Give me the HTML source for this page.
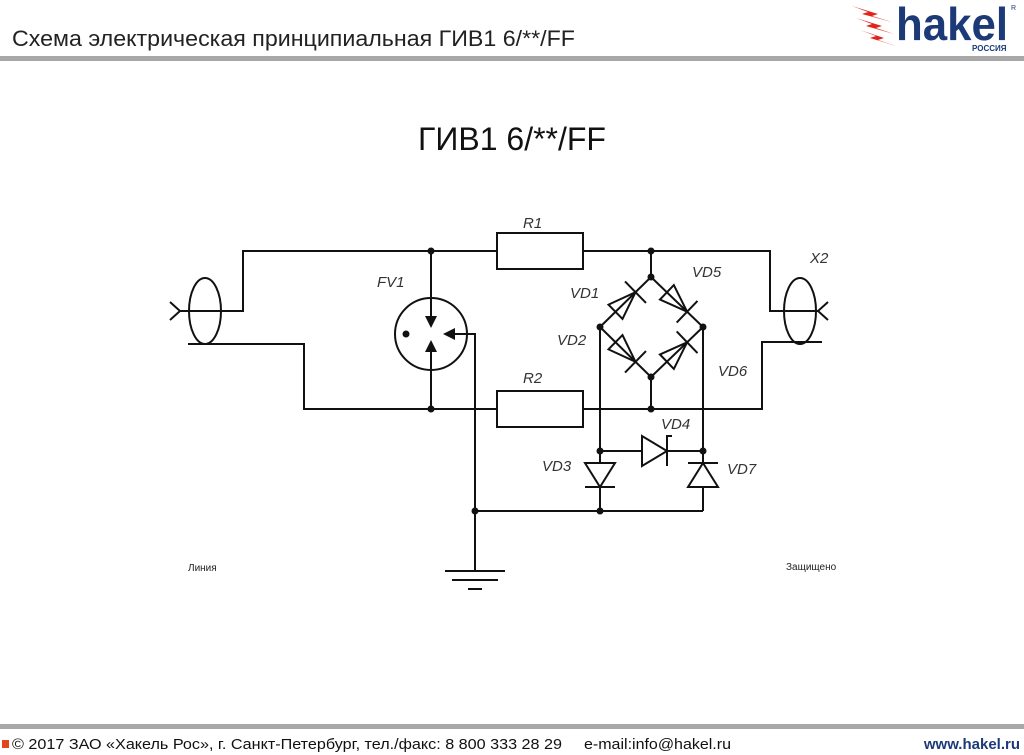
<!DOCTYPE html>
<html><head><meta charset="utf-8"><style>
html,body{margin:0;padding:0;background:#fff;}
svg{display:block;}
</style></head><body>
<svg width="1024" height="755" viewBox="0 0 1024 755" xmlns="http://www.w3.org/2000/svg" font-family="Liberation Sans, sans-serif">
<!-- header -->
<text x="12" y="46" font-size="22" fill="#222" textLength="563" lengthAdjust="spacingAndGlyphs">Схема электрическая принципиальная ГИВ1 6/**/FF</text>
<rect x="0" y="56" width="1024" height="5" fill="#a8a8a8"/>
<!-- logo -->
<g fill="#e2231a">
<polygon points="852,6 878,14 872,16 892,22 862,14 868,12"/>
<polygon points="856,18 882,26 876,28 894,34 866,26 872,24"/>
<polygon points="860,30 884,38 878,40 896,46 870,38 876,36"/>
</g>
<text x="896" y="40" font-size="46" font-weight="bold" fill="#1d3a78" textLength="112" lengthAdjust="spacingAndGlyphs">hakel</text>
<text x="1011" y="10" font-size="7" fill="#1d3a78">R</text>
<text x="972" y="51" font-size="8" font-weight="bold" fill="#1d3a78">РОССИЯ</text>
<!-- title -->
<text x="512" y="150" font-size="32" text-anchor="middle" fill="#111">ГИВ1 6/**/FF</text>

<g stroke="#111" stroke-width="2" fill="none">
<ellipse cx="205" cy="311" rx="16" ry="33"/>
<polyline points="170,302 180,311 170,320"/>
<polyline points="180,311 243,311 243,251 497,251"/>
<polyline points="188,344 304,344 304,409 497,409"/>
<rect x="497" y="233" width="86" height="36"/>
<rect x="497" y="391" width="86" height="36"/>
<polyline points="583,251 770,251 770,311 818,311"/>
<polyline points="583,409 762,409 762,342 822,342"/>
<ellipse cx="800" cy="311" rx="16" ry="33"/>
<polyline points="828,302 818,311 828,320"/>
<circle cx="431" cy="334" r="36"/>
<line x1="431" y1="251" x2="431" y2="318"/>
<line x1="431" y1="409" x2="431" y2="350"/>
<polyline points="475,511 475,334 446,334"/>
<line x1="651" y1="251" x2="651" y2="277"/>
<line x1="651" y1="377" x2="651" y2="409"/>
<polyline points="600,327 651,277 703,327 651,377 600,327"/>
<line x1="600" y1="327" x2="600" y2="511"/>
<line x1="703" y1="327" x2="703" y2="511"/>
<line x1="600" y1="451" x2="703" y2="451"/>
<line x1="475" y1="511" x2="703" y2="511"/>
<line x1="475" y1="511" x2="475" y2="571"/>
<line x1="445" y1="571" x2="505" y2="571"/>
<line x1="452" y1="580" x2="498" y2="580"/>
<line x1="468" y1="589" x2="482" y2="589"/>
</g>
<g fill="#111">
<polygon points="425,316 437,316 431,328"/>
<polygon points="425,352 437,352 431,340"/>
<polygon points="455,328 455,340 443,334"/>
<circle cx="406" cy="334" r="3.5"/>
</g>
<!-- bridge diodes (unfilled) -->
<g stroke="#111" stroke-width="2" fill="none">
<g transform="translate(625.5,302) rotate(-44.4)"><polygon points="-14,-10 -14,10 14,0"/><line x1="14" y1="-15" x2="14" y2="15"/></g>
<g transform="translate(677,302) rotate(43.9)"><polygon points="-14,-10 -14,10 14,0"/><line x1="14" y1="-15" x2="14" y2="15"/></g>
<g transform="translate(625.5,352) rotate(44.4)"><polygon points="-14,-10 -14,10 14,0"/><line x1="14" y1="-15" x2="14" y2="15"/></g>
<g transform="translate(677,352) rotate(-43.9)"><polygon points="-14,-10 -14,10 14,0"/><line x1="14" y1="-15" x2="14" y2="15"/></g>
</g>
<g stroke="#111" stroke-width="2" fill="#fff">
<g transform="translate(654,451)"><polygon points="-12,-15 -12,15 13,0"/><polyline points="18,-15 13,-15 13,15" fill="none"/></g>
<g transform="translate(600,475) rotate(90)"><polygon points="-12,-15 -12,15 12,0"/><line x1="12" y1="-15" x2="12" y2="15"/></g>
<g transform="translate(703,475) rotate(-90)"><polygon points="-12,-15 -12,15 12,0"/><line x1="12" y1="-15" x2="12" y2="15"/></g>
</g>
<g fill="#111">
<circle cx="431" cy="251" r="3.5"/><circle cx="431" cy="409" r="3.5"/>
<circle cx="651" cy="251" r="3.5"/><circle cx="651" cy="277" r="3.5"/>
<circle cx="600" cy="327" r="3.5"/><circle cx="703" cy="327" r="3.5"/>
<circle cx="651" cy="377" r="3.5"/><circle cx="651" cy="409" r="3.5"/>
<circle cx="600" cy="451" r="3.5"/><circle cx="703" cy="451" r="3.5"/>
<circle cx="600" cy="511" r="3.5"/><circle cx="475" cy="511" r="3.5"/>
</g>
<g font-size="15" font-style="italic" fill="#333">
<text x="523" y="228">R1</text>
<text x="523" y="383">R2</text>
<text x="377" y="287">FV1</text>
<text x="570" y="298">VD1</text>
<text x="692" y="277">VD5</text>
<text x="557" y="345">VD2</text>
<text x="718" y="376">VD6</text>
<text x="661" y="429">VD4</text>
<text x="542" y="471">VD3</text>
<text x="727" y="474">VD7</text>
<text x="810" y="263">X2</text>
</g>
<text x="188" y="571" font-size="10" fill="#222">Линия</text>
<text x="786" y="570" font-size="10" fill="#222">Защищено</text>
<rect x="0" y="724" width="1024" height="5" fill="#a8a8a8"/>
<rect x="2" y="740" width="7" height="8" fill="#e2461a"/>
<text x="12" y="749" font-size="15" fill="#111" textLength="550" lengthAdjust="spacingAndGlyphs">© 2017 ЗАО «Хакель Рос», г. Санкт-Петербург, тел./факс: 8 800 333 28 29</text>
<text x="584" y="749" font-size="15" fill="#111" textLength="147" lengthAdjust="spacingAndGlyphs">e-mail:info@hakel.ru</text>
<text x="1020" y="749" font-size="15" font-weight="bold" fill="#1d3a78" text-anchor="end">www.hakel.ru</text>
</svg>
</body></html>
